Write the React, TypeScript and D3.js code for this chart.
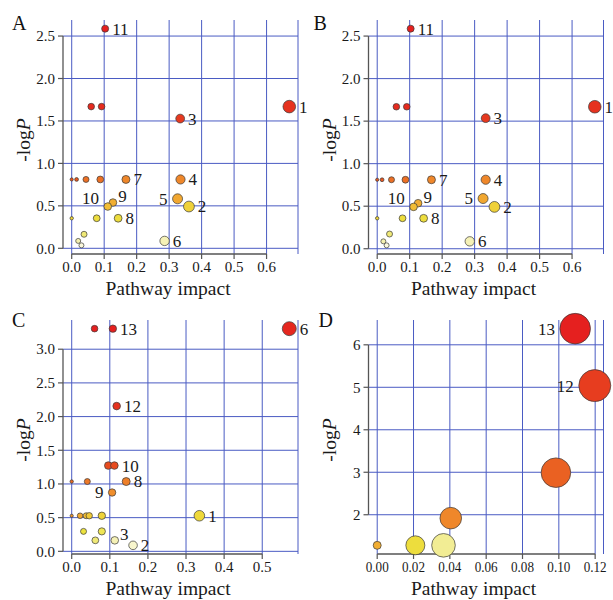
import React from "react";
import * as d3 from "d3";

// ---------- Panel A ----------
const aX = [0.103, 0.060, 0.092, 0.670, 0.334, 0.0, 0.015, 0.044, 0.088, 0.167, 0.335, 0.326, 0.361, 0.127, 0.111, 0.143, 0.077, 0.0, 0.038, 0.020, 0.030, 0.286];
const aY = [2.587, 1.669, 1.669, 1.669, 1.528, 0.811, 0.811, 0.811, 0.811, 0.811, 0.811, 0.583, 0.492, 0.539, 0.492, 0.354, 0.354, 0.354, 0.165, 0.087, 0.035, 0.087];
const aSize = [3.5, 3.3, 3.3, 6.3, 4.4, 1.6, 1.9, 3.0, 3.4, 4.0, 4.6, 5.0, 5.4, 3.8, 3.8, 3.9, 3.4, 1.7, 3.0, 2.5, 2.5, 4.7];
const aHeat = [1.0, 0.97, 0.97, 0.95, 0.93, 0.85, 0.85, 0.78, 0.78, 0.72, 0.72, 0.62, 0.47, 0.6, 0.55, 0.42, 0.42, 0.45, 0.3, 0.2, 0.05, 0.18];
const aLabels = ["11", "", "", "1", "3", "", "", "", "", "7", "4", "5", "2", "9", "10", "8", "", "", "", "", "", "6"];
const aPlace = ["r", "", "", "r", "r", "", "", "", "", "r", "r", "l", "r", "ur", "ul", "r", "", "", "", "", "", "r"];

// ---------- Panel B ----------
const bX = [0.103, 0.059, 0.091, 0.670, 0.334, 0.0, 0.015, 0.044, 0.087, 0.167, 0.334, 0.326, 0.361, 0.126, 0.112, 0.143, 0.078, 0.0, 0.038, 0.019, 0.029, 0.285];
const bY = [2.587, 1.669, 1.669, 1.669, 1.535, 0.811, 0.811, 0.811, 0.811, 0.811, 0.811, 0.590, 0.492, 0.535, 0.492, 0.358, 0.358, 0.358, 0.173, 0.087, 0.040, 0.087];
const bSize = [3.5, 3.3, 3.3, 6.3, 4.4, 1.6, 1.9, 3.0, 3.4, 4.0, 4.6, 5.0, 5.4, 3.8, 3.8, 3.9, 3.4, 1.7, 3.0, 2.5, 2.5, 4.7];
const bHeat = [1.0, 0.97, 0.97, 0.95, 0.93, 0.85, 0.85, 0.78, 0.78, 0.72, 0.72, 0.62, 0.47, 0.6, 0.55, 0.42, 0.42, 0.45, 0.3, 0.2, 0.05, 0.18];
const bLabels = ["11", "", "", "1", "3", "", "", "", "", "7", "4", "5", "2", "9", "10", "8", "", "", "", "", "", "6"];
const bPlace = ["r", "", "", "r", "r", "", "", "", "", "r", "r", "l", "r", "ur", "ul", "r", "", "", "", "", "", "r"];

// ---------- Panel C ----------
const cX = [0.060, 0.108, 0.571, 0.118, 0.096, 0.112, 0.0, 0.041, 0.143, 0.106, 0.0, 0.022, 0.038, 0.046, 0.079, 0.335, 0.031, 0.079, 0.062, 0.113, 0.161];
const cY = [3.305, 3.305, 3.305, 2.156, 1.273, 1.273, 1.036, 1.036, 1.036, 0.873, 0.528, 0.528, 0.528, 0.528, 0.528, 0.528, 0.296, 0.296, 0.163, 0.163, 0.089];
const cSize = [3.3, 3.7, 7.0, 3.8, 3.8, 3.8, 1.7, 3.0, 4.0, 3.7, 1.6, 2.8, 3.0, 3.2, 3.7, 5.3, 3.0, 3.6, 3.4, 3.8, 4.3];
const cHeat = [1.0, 1.0, 0.98, 0.95, 0.88, 0.88, 0.8, 0.76, 0.74, 0.7, 0.68, 0.62, 0.55, 0.5, 0.46, 0.44, 0.4, 0.36, 0.3, 0.18, 0.1];
const cLabels = ["", "13", "6", "12", "", "10", "", "", "8", "9", "", "", "", "", "", "1", "", "", "", "3", "2"];
const cPlace = ["", "r", "r", "r", "", "r", "", "", "r", "l", "", "", "", "", "", "r", "", "", "", "ur", "r"];

// ---------- Panel D ----------
const dX = [0.0, 0.021, 0.0365, 0.0405, 0.0984, 0.1198, 0.109];
const dY = [1.28, 1.28, 1.28, 1.92, 2.99, 5.04, 6.38];
const dSize = [4.0, 9.5, 11.8, 10.8, 14.8, 16.0, 15.3];
const dHeat = [0.6, 0.42, 0.25, 0.72, 0.82, 0.92, 1.0];
const dLabels = ["", "", "", "", "", "12", "13"];
const dPlace = ["", "", "", "", "", "l", "l"];

// ---------- Ticks ----------
const abXTicks = [0, 0.1, 0.2, 0.3, 0.4, 0.5, 0.6];
const abYTicks = [0, 0.5, 1.0, 1.5, 2.0, 2.5];
const cXTicks = [0, 0.1, 0.2, 0.3, 0.4, 0.5];
const cYTicks = [0, 0.5, 1.0, 1.5, 2.0, 2.5, 3.0];
const dXTicks = [0, 0.02, 0.04, 0.06, 0.08, 0.1, 0.12];
const dYTicks = [2, 3, 4, 5, 6];

const FONT = "Liberation Serif";
const GRID = "#4a5bc3";
const AXIS = "#555";
const TXT = "#1a1a1a";

const heatColor = d3
  .scaleLinear<string>()
  .domain([0, 0.2, 0.4, 0.55, 0.7, 0.85, 1])
  .range(["#fcfbea", "#f4f0b0", "#ece23e", "#f2bd34", "#f08e2c", "#e8561f", "#e5201f"])
  .interpolate(d3.interpolateRgb);

const rScale = d3.scaleLinear().domain([0, 1]).range([0, 1]);

function pad(vals: number[]): [number, number] {
  const [mn, mx] = d3.extent(vals) as [number, number];
  const p = (mx - mn) * 0.04;
  return [mn - p, mx + p];
}

type PanelProps = {
  qx: number;
  qy: number;
  letter: string;
  lx: number;
  ly: number;
  xs: number[];
  ys: number[];
  sizes: number[];
  heats: number[];
  labels: string[];
  place: string[];
  xTicks: number[];
  yTicks: number[];
  xFmt: (v: number) => string;
  yFmt: (v: number) => string;
  xLabW?: number;
};

const tStyle = (size: number): React.CSSProperties => ({ fontFamily: FONT, fontSize: size });

function Panel(p: PanelProps) {
  const left = p.qx + 63;
  const right = left + 235;
  const top = p.qy + 20;
  const bottom = p.qy + 254;
  const x = d3.scaleLinear().domain(pad(p.xs)).range([left, right]);
  const y = d3.scaleLinear().domain(pad(p.ys)).range([bottom, top]);
  const xt0 = x(p.xTicks[0]);
  const xt1 = x(p.xTicks[p.xTicks.length - 1]);
  const yt0 = y(p.yTicks[0]);
  const yt1 = y(p.yTicks[p.yTicks.length - 1]);
  return (
    <g>
      {p.xTicks.map((t, i) => (
        <line key={"gx" + i} x1={x(t)} x2={x(t)} y1={top} y2={bottom} stroke={GRID} strokeWidth={1} />
      ))}
      <line x1={right} x2={right} y1={top} y2={bottom} stroke={GRID} strokeWidth={1} />
      {p.yTicks.map((t, i) => (
        <line key={"gy" + i} x1={left} x2={right} y1={y(t)} y2={y(t)} stroke={GRID} strokeWidth={1} />
      ))}
      <line x1={left} x2={left} y1={yt1} y2={yt0} stroke={AXIS} strokeWidth={1.3} />
      <line x1={xt0} x2={xt1} y1={bottom} y2={bottom} stroke={AXIS} strokeWidth={1.3} />
      {p.yTicks.map((t, i) => (
        <g key={"yt" + i}>
          <line x1={left - 5} x2={left} y1={y(t)} y2={y(t)} stroke={AXIS} strokeWidth={1.2} />
          <text x={left - 8} y={y(t)} dy="0.35em" textAnchor="end" style={tStyle(15)} fill={TXT}>
            {p.yFmt(t)}
          </text>
        </g>
      ))}
      {p.xTicks.map((t, i) => (
        <g key={"xt" + i}>
          <line x1={x(t)} x2={x(t)} y1={bottom} y2={bottom + 5} stroke={AXIS} strokeWidth={1.2} />
          {p.xLabW ? (
            <text
              x={x(t) - p.xLabW / 2}
              y={bottom + 18}
              textLength={p.xLabW}
              lengthAdjust="spacingAndGlyphs"
              style={tStyle(15)}
              fill={TXT}
            >
              {p.xFmt(t)}
            </text>
          ) : (
            <text x={x(t)} y={bottom + 18} textAnchor="middle" style={tStyle(15)} fill={TXT}>
              {p.xFmt(t)}
            </text>
          )}
        </g>
      ))}
      <text x={left + 105} y={bottom + 41} textAnchor="middle" style={tStyle(19.5)} fill={TXT}>
        Pathway impact
      </text>
      <text
        transform={`translate(${left - 33},${(top + bottom) / 2 + 3}) rotate(-90)`}
        textAnchor="middle"
        style={tStyle(19.5)}
        fill={TXT}
      >
        -log<tspan fontStyle="italic">P</tspan>
      </text>
      <text x={p.lx} y={p.ly} style={tStyle(20)} fill="#111">
        {p.letter}
      </text>
      {p.xs.map((v, i) => (
        <circle
          key={"c" + i}
          cx={x(v)}
          cy={y(p.ys[i])}
          r={rScale(p.sizes[i])}
          fill={heatColor(p.heats[i])}
          stroke="#3a3a3a"
          strokeWidth={0.7}
        />
      ))}
      {p.labels.map((lab, i) => {
        if (!lab) return null;
        const cx = x(p.xs[i]);
        const cy = y(p.ys[i]);
        const r = rScale(p.sizes[i]);
        const pl = p.place[i];
        let tx = cx + r + 3.5;
        let ty = cy;
        let anchor = "start";
        if (pl === "l") {
          tx = cx - r - 5;
          anchor = "end";
        } else if (pl === "ur") {
          tx = cx + r + 1.5;
          ty = cy - 6;
        } else if (pl === "ul") {
          tx = cx - r - 5;
          ty = cy - 8.5;
          anchor = "end";
        }
        return (
          <text key={"l" + i} x={tx} y={ty} dy="0.35em" textAnchor={anchor} style={tStyle(17)} fill={TXT}>
            {lab}
          </text>
        );
      })}
    </g>
  );
}

const f1 = d3.format(".1f");
const f2 = d3.format(".2f");
const f0 = d3.format("d");

export default function App() {
  return (
    <svg
      width={613}
      height={600}
      viewBox="0 0 613 600"
      style={{ position: "absolute", left: 0, top: 0, background: "#fff" }}
    >
      <rect x={0} y={0} width={613} height={600} fill="#fff" />
      <Panel qx={0} qy={0} letter="A" lx={12} ly={30} xs={aX} ys={aY} sizes={aSize} heats={aHeat} labels={aLabels} place={aPlace} xTicks={abXTicks} yTicks={abYTicks} xFmt={f1} yFmt={f1} />
      <Panel qx={305.5} qy={0} letter="B" lx={313.5} ly={29.5} xs={bX} ys={bY} sizes={bSize} heats={bHeat} labels={bLabels} place={bPlace} xTicks={abXTicks} yTicks={abYTicks} xFmt={f1} yFmt={f1} />
      <Panel qx={0} qy={300} letter="C" lx={12} ly={327} xs={cX} ys={cY} sizes={cSize} heats={cHeat} labels={cLabels} place={cPlace} xTicks={cXTicks} yTicks={cYTicks} xFmt={f1} yFmt={f1} />
      <Panel qx={305.5} qy={300} letter="D" lx={318.5} ly={327} xs={dX} ys={dY} sizes={dSize} heats={dHeat} labels={dLabels} place={dPlace} xTicks={dXTicks} yTicks={dYTicks} xFmt={f2} yFmt={f0} xLabW={23} />
    </svg>
  );
}
